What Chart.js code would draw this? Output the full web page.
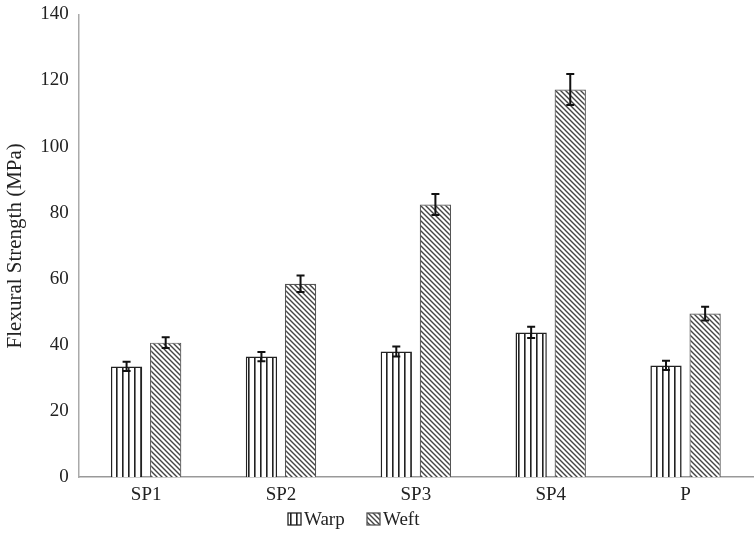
<!DOCTYPE html>
<html>
<head>
<meta charset="utf-8">
<script src="https://cdn.jsdelivr.net/npm/chart.js@4"></script>
<style>
  body { margin: 0; background: #fff; }
  #wrap { width: 754px; height: 555px; }
</style>
</head>
<body>
<div id="wrap"><canvas id="flexChart"></canvas></div>
<script>
const categories = ["SP1", "SP2", "SP3", "SP4", "P"];
const warpValues = [33.5, 36.5, 38, 43.8, 33.8];
const weftValues = [40.7, 58.5, 82.5, 117.3, 49.5];
const warpErrors = [1.4, 1.4, 1.5, 1.7, 1.4];
const weftErrors = [1.6, 2.5, 3.2, 4.7, 2.1];

// hatch fills
function makePattern(kind) {
    const tile = document.createElement("canvas");
    const c = tile.getContext("2d");
    if (kind === "vertical") {
        tile.width = 6; tile.height = 6;
        c.fillStyle = "#fff";
        c.fillRect(0, 0, 6, 6);
        c.fillStyle = "#222";
        c.fillRect(2, 0, 1.6, 6);
    } else {
        const s = 5;
        tile.width = s; tile.height = s;
        c.fillStyle = "#fff";
        c.fillRect(0, 0, s, s);
        c.strokeStyle = "#444";
        c.lineWidth = 1.4;
        c.beginPath();
        c.moveTo(-1, -1); c.lineTo(s + 1, s + 1);
        c.moveTo(-1, s - 1); c.lineTo(1, s + 1);
        c.moveTo(s - 1, -1); c.lineTo(s + 1, 1);
        c.stroke();
    }
    return c.createPattern(tile, "repeat");
}

const serif = "'Liberation Serif', 'Times New Roman', serif";

const errorBars = {
    id: "errorBars",
    afterDatasetsDraw(chart) {
        const ctx = chart.ctx;
        const yScale = chart.scales.y;
        const errs = [warpErrors, weftErrors];
        ctx.save();
        ctx.strokeStyle = "#111";
        ctx.lineWidth = 2;
        chart.data.datasets.forEach((ds, i) => {
            const meta = chart.getDatasetMeta(i);
            meta.data.forEach((bar, j) => {
                const v = ds.data[j];
                const e = errs[i][j];
                const top = yScale.getPixelForValue(v + e);
                const bot = yScale.getPixelForValue(v - e);
                ctx.beginPath();
                ctx.moveTo(bar.x, top); ctx.lineTo(bar.x, bot);
                ctx.moveTo(bar.x - 4, top); ctx.lineTo(bar.x + 4, top);
                ctx.moveTo(bar.x - 4, bot); ctx.lineTo(bar.x + 4, bot);
                ctx.stroke();
            });
        });
        ctx.restore();
    }
};

// legend drawn by hand so box/text spacing matches the original
const bottomLegend = {
    id: "bottomLegend",
    afterDraw(chart) {
        const ctx = chart.ctx;
        const spots = [288, 367];
        ctx.save();
        ctx.font = "19px " + serif;
        ctx.textBaseline = "middle";
        chart.data.datasets.forEach((ds, i) => {
            const x = spots[i];
            const y = 519;
            ctx.fillStyle = ds.backgroundColor;
            ctx.fillRect(x, y - 6, 13, 12);
            ctx.strokeStyle = ds.borderColor;
            ctx.lineWidth = 1.3;
            ctx.strokeRect(x, y - 6, 13, 12);
            ctx.fillStyle = "#222";
            ctx.fillText(ds.label, x + 16, y + 1);
        });
        ctx.restore();
    }
};

new Chart(document.getElementById("flexChart"), {
    type: "bar",
    data: {
        labels: categories,
        datasets: [{
            label: "Warp",
            data: warpValues,
            backgroundColor: makePattern("vertical"),
            borderColor: "#222",
            borderWidth: 1.5
        }, {
            label: "Weft",
            data: weftValues,
            backgroundColor: makePattern("diagonal"),
            borderColor: "#555",
            borderWidth: 1.2
        }]
    },
    options: {
        responsive: true,
        maintainAspectRatio: false,
        animation: false,
        categoryPercentage: 0.58,
        barPercentage: 0.8,
        layout: { padding: { top: 1, right: 1, left: 2, bottom: 43 } },
        plugins: {
            legend: { display: false },
            tooltip: { enabled: false }
        },
        scales: {
            x: {
                grid: { display: false, drawTicks: false },
                border: { display: true, color: "#999", width: 1.5 },
                ticks: { font: { family: serif, size: 19 }, color: "#222", padding: 6 }
            },
            y: {
                min: 0,
                max: 140,
                grid: { display: false, drawTicks: true, tickLength: 7 },
                border: { display: true, color: "#aaa", width: 1.5 },
                ticks: { stepSize: 20, font: { family: serif, size: 19 }, color: "#222", padding: 3 },
                title: {
                    display: true,
                    text: "Flexural Strength (MPa)",
                    font: { family: serif, size: 21 },
                    color: "#222",
                    padding: { top: 1, bottom: 9 }
                }
            }
        }
    },
    plugins: [errorBars, bottomLegend]
});
</script>
</body>
</html>
